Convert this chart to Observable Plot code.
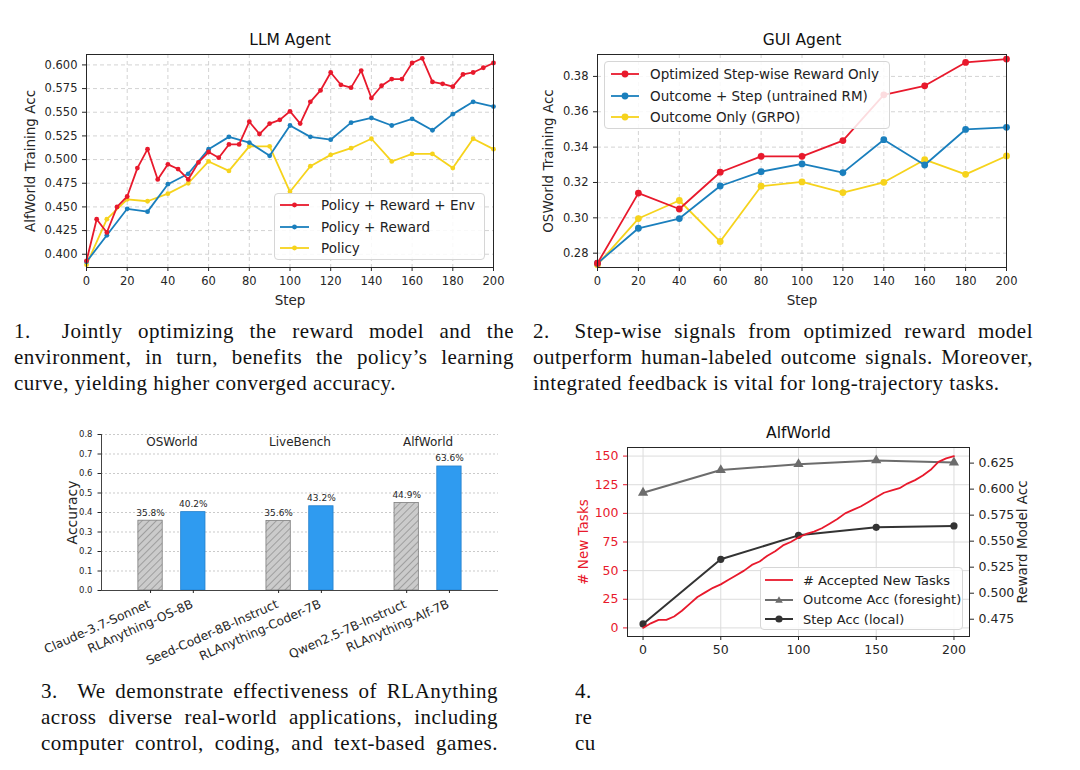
<!DOCTYPE html>
<html><head><meta charset="utf-8">
<script src="https://cdn.jsdelivr.net/npm/d3@7"></script>
<script src="https://cdn.jsdelivr.net/npm/@observablehq/plot@0.6"></script>
<style>
body{margin:0;background:#fff;}
#page{position:relative;width:1080px;height:770px;overflow:hidden;background:#fff;font-family:"DejaVu Sans",sans-serif;}
.legend{position:absolute;border:1px solid #d6d6d6;border-radius:4px;background:rgba(255,255,255,0.85);font-family:"DejaVu Sans",sans-serif;color:#222;box-sizing:border-box;}
.legend .row{position:absolute;display:flex;align-items:center;white-space:nowrap;height:20px;}
.cap{position:absolute;font-family:"Liberation Serif",serif;font-size:21px;letter-spacing:0.5px;color:#111;}
.cap div{height:26px;line-height:26px;white-space:nowrap;}
.cap .j{text-align:justify;text-align-last:justify;}
</style>
</head><body><div id="page"></div>
<script>
// ---------- DATA ----------
// Panel 1: LLM Agent
const llmStepsFine = [0,5,10,15,20,25,30,35,40,45,50,55,60,65,70,75,80,85,90,95,100,105,110,115,120,125,130,135,140,145,150,155,160,165,170,175,180,185,190,195,200];
const llmStepsCoarse = [0,10,20,30,40,50,60,70,80,90,100,110,120,130,140,150,160,170,180,190,200];
const llmPolicyRewardEnv = [0.393,0.437,0.423,0.450,0.461,0.491,0.511,0.479,0.495,0.490,0.479,0.497,0.508,0.502,0.516,0.516,0.540,0.527,0.538,0.542,0.551,0.538,0.561,0.573,0.592,0.579,0.576,0.594,0.565,0.578,0.585,0.585,0.602,0.607,0.582,0.580,0.577,0.590,0.592,0.597,0.602];
const llmPolicyReward = [0.392,0.420,0.448,0.445,0.474,0.485,0.511,0.524,0.518,0.504,0.536,0.524,0.521,0.539,0.544,0.536,0.543,0.531,0.548,0.561,0.556];
const llmPolicy = [0.389,0.437,0.458,0.456,0.464,0.475,0.498,0.488,0.514,0.514,0.466,0.493,0.505,0.512,0.522,0.498,0.506,0.506,0.491,0.522,0.511];
const llmXTicks = [0,20,40,60,80,100,120,140,160,180,200];
const llmYTicks = [0.400,0.425,0.450,0.475,0.500,0.525,0.550,0.575,0.600];

// Panel 2: GUI Agent
const guiSteps = [0,20,40,60,80,100,120,140,160,180,200];
const guiOptimizedStep = [0.2743,0.3140,0.3050,0.3258,0.3348,0.3348,0.3437,0.3696,0.3747,0.3879,0.3898];
const guiOutcomeStep = [0.2743,0.2941,0.2996,0.3180,0.3261,0.3305,0.3256,0.3442,0.3299,0.3500,0.3512];
const guiOutcomeOnly = [0.2735,0.2996,0.3098,0.2866,0.3179,0.3203,0.3143,0.3201,0.3329,0.3246,0.3350];
const guiXTicks = [0,20,40,60,80,100,120,140,160,180,200];
const guiYTicks = [0.28,0.30,0.32,0.34,0.36,0.38];

// Panel 3: bars
const benchGroups = ["OSWorld","LiveBench","AlfWorld"];
const barModels = ["Claude-3.7-Sonnet","RLAnything-OS-8B","Seed-Coder-8B-Instruct","RLAnything-Coder-7B","Qwen2.5-7B-Instruct","RLAnything-Alf-7B"];
const barGroupIdx = [0,0,1,1,2,2];
const barIsOurs = [false,true,false,true,false,true];
const barAcc = [0.358,0.402,0.356,0.432,0.449,0.636];
const barLabels = ["35.8%","40.2%","35.6%","43.2%","44.9%","63.6%"];
const barYTicks = [0.0,0.1,0.2,0.3,0.4,0.5,0.6,0.7,0.8];

// Panel 4: AlfWorld dual axis
const alfTaskSteps = [0,5,10,15,20,25,30,35,40,45,50,55,60,65,70,75,80,85,90,95,100,105,110,115,120,125,130,135,140,145,150,155,160,165,170,175,180,185,190,195,200];
const alfAcceptedTasks = [0,4,7,7,10,15,21,27,31,35,38,42,46,50,55,58,63,67,72,75,79,82,84,87,91,95,100,103,106,110,114,118,120,122,126,129,133,138,145,148,150];
const alfRmSteps = [0,50,100,150,200];
const alfOutcomeAcc = [0.5965,0.6183,0.6240,0.6276,0.6256];
const alfStepAcc = [0.4705,0.5326,0.5556,0.5633,0.5646];
const alfXTicks = [0,50,100,150,200];
const alfLeftTicks = [0,25,50,75,100,125,150];
const alfRightTicks = [0.475,0.500,0.525,0.550,0.575,0.600,0.625];

// Captions
const caption1 = ["1.\u00a0\u00a0Jointly optimizing the reward model and the","environment, in turn, benefits the policy\u2019s learning","curve, yielding higher converged accuracy."];
const caption2 = ["2.\u00a0\u00a0Step-wise signals from optimized reward model","outperform human-labeled outcome signals. Moreover,","integrated feedback is vital for long-trajectory tasks."];
const caption3 = ["3.\u00a0\u00a0We demonstrate effectiveness of RLAnything","across diverse real-world applications, including","computer control, coding, and text-based games."];
const caption4 = ["4.","re","cu"];

// ---------- STYLE ----------
const RED = "#e8192c", BLUE = "#1a7fbd", YELLOW = "#f6d31c";
const page = document.getElementById("page");
function place(el, left, top){ el.style.position="absolute"; el.style.left=left+"px"; el.style.top=top+"px"; page.appendChild(el); return el; }
const baseStyle = (fs)=>({fontFamily:"DejaVu Sans, sans-serif", fontSize:fs+"px", color:"#262626", background:"transparent", overflow:"visible"});
const ylab = (t, dx, fill, side)=>Plot.text([t],{frameAnchor:side||"left", dx, rotate:-90, textAnchor:"middle", lineAnchor:"middle", fontSize:13.5, fill:fill||"#262626"});
const xlab = (t, dy)=>Plot.text([t],{frameAnchor:"bottom", dy, lineAnchor:"middle", textAnchor:"middle", fontSize:13.5, fill:"#262626"});
const title = (t, dy)=>Plot.text([t],{frameAnchor:"top", dy, lineAnchor:"middle", textAnchor:"middle", fontSize:15.5, fill:"#111"});

// ---------- PANEL 1 ----------
{
  const red = llmStepsFine.map((s,i)=>({step:s, acc:llmPolicyRewardEnv[i]}));
  const blue = llmStepsCoarse.map((s,i)=>({step:s, acc:llmPolicyReward[i]}));
  const yel = llmStepsCoarse.map((s,i)=>({step:s, acc:llmPolicy[i]}));
  const grid = {stroke:"#c8c8c8", strokeOpacity:0.8, strokeDasharray:"4,3"};
  const p = Plot.plot({
    width:520, height:300, marginLeft:86, marginRight:27, marginTop:34, marginBottom:53,
    style: baseStyle(11.5),
    x:{domain:[0,200]}, y:{domain:[0.386,0.611]},
    marks:[
      Plot.gridX(llmXTicks, grid), Plot.gridY(llmYTicks, grid),
      Plot.line(yel,{x:"step",y:"acc",stroke:YELLOW,strokeWidth:1.8}),
      Plot.dot(yel,{x:"step",y:"acc",fill:YELLOW,r:2.4}),
      Plot.line(blue,{x:"step",y:"acc",stroke:BLUE,strokeWidth:1.8}),
      Plot.dot(blue,{x:"step",y:"acc",fill:BLUE,r:2.4}),
      Plot.line(red,{x:"step",y:"acc",stroke:RED,strokeWidth:1.8}),
      Plot.dot(red,{x:"step",y:"acc",fill:RED,r:2.4}),
      Plot.frame({stroke:"#262626"}),
      Plot.axisX({ticks:llmXTicks, tickSize:4, label:null}),
      Plot.axisY({ticks:llmYTicks, tickSize:4, tickFormat:d3.format(".3f"), label:null}),
      xlab("Step", 33),
      ylab("AlfWorld Training Acc", -56),
      title("LLM Agent", -14)
    ]
  });
  place(p, 0, 20);
}

// ---------- PANEL 2 ----------
{
  const mk = (arr)=>guiSteps.map((s,i)=>({step:s, acc:arr[i]}));
  const red = mk(guiOptimizedStep), blue = mk(guiOutcomeStep), yel = mk(guiOutcomeOnly);
  const grid = {stroke:"#c8c8c8", strokeOpacity:0.8, strokeDasharray:"4,3"};
  const p = Plot.plot({
    width:530, height:300, marginLeft:67, marginRight:54, marginTop:34, marginBottom:53,
    style: baseStyle(11.5),
    x:{domain:[0,200]}, y:{domain:[0.2719,0.3924]},
    marks:[
      Plot.gridX(guiXTicks, grid), Plot.gridY(guiYTicks, grid),
      Plot.line(yel,{x:"step",y:"acc",stroke:YELLOW,strokeWidth:1.8}),
      Plot.dot(yel,{x:"step",y:"acc",fill:YELLOW,r:3.4}),
      Plot.line(blue,{x:"step",y:"acc",stroke:BLUE,strokeWidth:1.8}),
      Plot.dot(blue,{x:"step",y:"acc",fill:BLUE,r:3.4}),
      Plot.line(red,{x:"step",y:"acc",stroke:RED,strokeWidth:1.8}),
      Plot.dot(red,{x:"step",y:"acc",fill:RED,r:3.4}),
      Plot.frame({stroke:"#262626"}),
      Plot.axisX({ticks:guiXTicks, tickSize:4, label:null}),
      Plot.axisY({ticks:guiYTicks, tickSize:4, tickFormat:d3.format(".2f"), label:null}),
      xlab("Step", 33),
      ylab("OSWorld Training Acc", -49),
      title("GUI Agent", -14)
    ]
  });
  place(p, 530, 20);
}

// ---------- PANEL 3 ----------
{
  const groupOffset = 0.167, barW = 0.19, xDom = [-0.55, 2.55];
  const bars = barModels.map((m,i)=>({model:m, pos:barGroupIdx[i] + (barIsOurs[i]?groupOffset:-groupOffset), acc:barAcc[i], label:barLabels[i], ours:barIsOurs[i]}));
  const p = Plot.plot({
    width:480, height:250, marginLeft:71, marginRight:12, marginTop:14, marginBottom:80,
    style: baseStyle(8.5),
    x:{domain:xDom}, y:{domain:[0,0.8]},
    marks:[
      Plot.gridY(barYTicks.slice(1), {stroke:"#bdbdbd", strokeOpacity:0.8, strokeDasharray:"2,2"}),
      Plot.rect(bars,{x1:d=>d.pos-barW/2, x2:d=>d.pos+barW/2, y1:0, y2:"acc",
        fill:d=>d.ours?"#2f9bf0":"url(#hatch)", stroke:d=>d.ours?"#2480cc":"#7d7d7d", strokeWidth:0.8}),
      Plot.text(bars,{x:"pos", y:"acc", text:"label", dy:-8, lineAnchor:"middle", fontSize:9, fill:"#262626"}),
      Plot.text(benchGroups,{x:(d,i)=>i, frameAnchor:"top", dy:8, lineAnchor:"middle", fontSize:12, fill:"#262626"}),
      Plot.ruleY([0],{stroke:"#444"}),
      Plot.ruleX([xDom[0]],{stroke:"#444"}),
      Plot.axisX({ticks:bars.map(b=>b.pos), tickFormat:()=>"", tickSize:3, label:null}),
      Plot.text(bars,{x:"pos", text:"model", frameAnchor:"bottom", rotate:-24, textAnchor:"end", lineAnchor:"middle", dy:13, dx:-1, fontSize:12.3, fill:"#262626"}),
      Plot.axisY({ticks:barYTicks, tickFormat:d3.format(".1f"), tickSize:3.5, label:null}),
      Plot.text(["Accuracy"],{frameAnchor:"left", dx:-29, rotate:-90, textAnchor:"middle", lineAnchor:"middle", fontSize:14, fill:"#262626"})
    ]
  });
  p.insertAdjacentHTML("afterbegin", '<defs><pattern id="hatch" patternUnits="userSpaceOnUse" width="5" height="5" patternTransform="rotate(45)"><rect width="5" height="5" fill="#cbcbcb"/><line x1="0" y1="0" x2="0" y2="5" stroke="#808080" stroke-width="1.2"/></pattern></defs>');
  place(p, 30, 420);
}

// ---------- PANEL 4 ----------
{
  const leftDom = [-7.5, 157.5], rightDom = [0.4584, 0.640];
  const toLeft = d3.scaleLinear().domain(rightDom).range(leftDom);
  const tasks = alfTaskSteps.map((s,i)=>({step:s, n:alfAcceptedTasks[i]}));
  const outc = alfRmSteps.map((s,i)=>({step:s, v:toLeft(alfOutcomeAcc[i])}));
  const stp = alfRmSteps.map((s,i)=>({step:s, v:toLeft(alfStepAcc[i])}));
  const grid = {stroke:"#dcdcdc", strokeOpacity:1};
  const p = Plot.plot({
    width:500, height:250, marginLeft:67, marginRight:91, marginTop:27, marginBottom:34,
    style: baseStyle(12.5),
    x:{domain:[-10,210]}, y:{domain:leftDom},
    marks:[
      Plot.gridX(alfXTicks, grid), Plot.gridY(alfLeftTicks, grid),
      Plot.line(outc,{x:"step",y:"v",stroke:"#6c6c6c",strokeWidth:2}),
      Plot.dot(outc,{x:"step",y:"v",fill:"#6c6c6c",symbol:"triangle",r:3.8}),
      Plot.line(stp,{x:"step",y:"v",stroke:"#333",strokeWidth:2}),
      Plot.dot(stp,{x:"step",y:"v",fill:"#333",r:3.6}),
      Plot.line(tasks,{x:"step",y:"n",stroke:RED,strokeWidth:1.8}),
      Plot.frame({stroke:"#262626"}),
      Plot.axisX({ticks:alfXTicks, tickSize:4, label:null}),
      Plot.axisY({ticks:alfLeftTicks, tickSize:4, label:null, color:RED}),
      Plot.axisY({anchor:"right", ticks:alfRightTicks.map(toLeft), tickFormat:d=>d3.format(".3f")(toLeft.invert(d)), tickSize:4, label:null}),
      ylab("# New Tasks", -44, RED),
      ylab("Reward Model Acc", 53, "#262626", "right"),
      title("AlfWorld", -14)
    ]
  });
  place(p, 560, 420);
}

// ---------- LEGENDS ----------
function legend(box, rows, fs, lineX0, lineX1, textX){
  const d = document.createElement("div");
  d.className = "legend";
  d.style.width = box.w+"px"; d.style.height = box.h+"px";
  d.style.fontSize = fs+"px";
  rows.forEach(r=>{
    const row = document.createElement("div");
    row.className = "row";
    row.style.left = lineX0+"px"; row.style.top = (r.cy-10)+"px";
    const w = lineX1-lineX0;
    let m = "";
    if (r.marker==="circle") m = `<circle cx="${w/2}" cy="10" r="${r.mr}" fill="${r.color}"/>`;
    if (r.marker==="triangle") m = `<polygon points="${w/2},${10-r.mr} ${w/2+r.mr},${10+r.mr*0.75} ${w/2-r.mr},${10+r.mr*0.75}" fill="${r.color}"/>`;
    row.innerHTML = `<svg width="${w}" height="20" style="overflow:visible"><line x1="0" y1="10" x2="${w}" y2="10" stroke="${r.color}" stroke-width="${r.sw||1.8}"/>${m}</svg><span style="margin-left:${textX-lineX1}px">${r.label}</span>`;
    d.appendChild(row);
  });
  return place(d, box.x, box.y);
}
legend({x:274,y:193,w:211,h:67},[
  {label:"Policy + Reward + Env", color:RED, marker:"circle", mr:2.4, cy:11},
  {label:"Policy + Reward", color:BLUE, marker:"circle", mr:2.4, cy:32.5},
  {label:"Policy", color:YELLOW, marker:"circle", mr:2.4, cy:54}
], 13.5, 5, 34, 46);
legend({x:604,y:61,w:286,h:68},[
  {label:"Optimized Step-wise Reward Only", color:RED, marker:"circle", mr:3.4, cy:12},
  {label:"Outcome + Step (untrained RM)", color:BLUE, marker:"circle", mr:3.4, cy:33.5},
  {label:"Outcome Only (GRPO)", color:YELLOW, marker:"circle", mr:3.4, cy:54.5}
], 13.5, 6, 34, 45);
legend({x:760,y:567,w:203,h:63},[
  {label:"# Accepted New Tasks", color:RED, marker:null, cy:12},
  {label:"Outcome Acc (foresight)", color:"#6c6c6c", marker:"triangle", mr:3.8, sw:2, cy:31.5},
  {label:"Step Acc (local)", color:"#333", marker:"circle", mr:3.6, sw:2, cy:51}
], 13, 4, 32, 42);

// ---------- CAPTIONS ----------
function caption(lines, x, y, w, justifyCount){
  const d = document.createElement("div");
  d.className = "cap"; d.style.width = w+"px";
  lines.forEach((t,i)=>{ const l = document.createElement("div"); if (i<justifyCount) l.className="j"; l.textContent=t; d.appendChild(l); });
  return place(d, x, y);
}
caption(caption1, 14, 318, 500, 2);
caption(caption2, 533, 318, 500, 2);
caption(caption3, 41, 678, 457, 3);
caption(caption4, 575, 678, 60, 0);
</script></body></html>
